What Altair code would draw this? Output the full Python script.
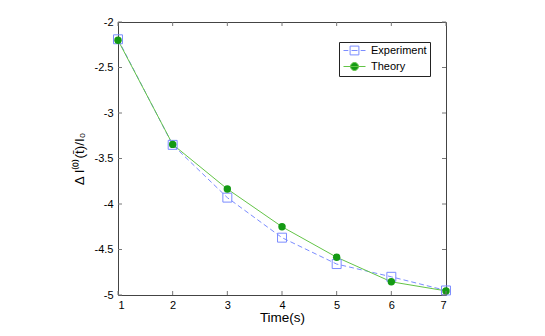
import altair as alt
import pandas as pd

# ---- data ----
time = [1, 2, 3, 4, 5, 6, 7]
experiment = [-2.19, -3.35, -3.93, -4.37, -4.66, -4.80, -4.95]
theory = [-2.20, -3.345, -3.835, -4.25, -4.585, -4.855, -4.955]
series = ["Experiment", "Theory"]
x_ticks = [1, 2, 3, 4, 5, 6, 7]
y_ticks = [-2, -2.5, -3, -3.5, -4, -4.5, -5]

W, H = 328, 273
FONT = "Liberation Sans"
BLUE = "#7b8cff"
GREEN_LINE = "#63c447"
GREEN_PT = "#149a14"

exp_df = pd.DataFrame({"t": time, "v": experiment})
th_df = pd.DataFrame({"t": time, "v": theory})
xt_df = pd.DataFrame({"t": x_ticks})
yt_df = pd.DataFrame({"v": y_ticks})
leg_df = pd.DataFrame({"series": series, "t": [1, 1], "v": [-2, -2]})

xs = alt.Scale(domain=[1, 7], nice=False, zero=False)
ys = alt.Scale(domain=[-5, -2], nice=False, zero=False)

x_axis = alt.Axis(values=x_ticks, ticks=False, domain=False, grid=False,
                  labelPadding=4, title="Time(s)", titlePadding=0,
                  labelExpr="datum.value + ''")
y_axis = alt.Axis(values=y_ticks, ticks=False, domain=False, grid=False,
                  labelPadding=5, title="\u0394 I\u207d\u2070\u207e(t\u0304)/I\u2080",
                  titlePadding=8, labelExpr="datum.value + ''")

X = alt.X("t:Q", scale=xs, axis=x_axis)
Y = alt.Y("v:Q", scale=ys, axis=y_axis)

exp_line = alt.Chart(exp_df).mark_line(color=BLUE, strokeWidth=1, strokeDash=[5, 3]).encode(x=X, y=Y)
th_line = alt.Chart(th_df).mark_line(color=GREEN_LINE, strokeWidth=1).encode(x=X, y=Y)
exp_pts = alt.Chart(exp_df).mark_point(shape="square", size=80, stroke=BLUE, strokeWidth=1,
                                       fill=None, opacity=1).encode(x=X, y=Y)
th_pts = alt.Chart(th_df).mark_point(shape="circle", size=55, filled=True, color=GREEN_PT,
                                     opacity=1).encode(x=X, y=Y)

tick_color = "#777"
bot_ticks = alt.Chart(xt_df).mark_rule(color=tick_color, strokeWidth=1).encode(
    x=X, y=alt.value(H), y2=alt.value(H - 4))
top_ticks = alt.Chart(xt_df).mark_rule(color=tick_color, strokeWidth=1).encode(
    x=X, y=alt.value(0), y2=alt.value(4))
left_ticks = alt.Chart(yt_df).mark_rule(color=tick_color, strokeWidth=1).encode(
    y=Y, x=alt.value(0), x2=alt.value(4))
right_ticks = alt.Chart(yt_df).mark_rule(color=tick_color, strokeWidth=1).encode(
    y=Y, x=alt.value(W - 4), x2=alt.value(W))

exp_sym = "M-1,0H0.2M1.0,0H2.5M3.3,0H4.5M0.65,-1.1H2.85V1.1H0.65Z"
th_sym = "M-1,0H4.5M2.75,0A1,1,0,1,1,0.75,0A1,1,0,1,1,2.75,0Z"

legend_layer = alt.Chart(leg_df).transform_filter("false").mark_point(opacity=1).encode(
    x=X, y=Y,
    shape=alt.Shape("series:N", scale=alt.Scale(domain=series, range=[exp_sym, th_sym]),
                    legend=alt.Legend(title=None)),
    stroke=alt.Stroke("series:N", scale=alt.Scale(domain=series, range=[BLUE, GREEN_LINE]),
                      legend=alt.Legend(title=None)),
    fill=alt.Fill("series:N", scale=alt.Scale(domain=series, range=["rgba(0,0,0,0)", GREEN_PT]),
                  legend=alt.Legend(title=None)),
)

chart = alt.layer(
    exp_line, th_line, exp_pts, th_pts,
    bot_ticks, top_ticks, left_ticks, right_ticks,
    legend_layer,
).properties(
    width=W, height=H,
    autosize=alt.AutoSizeParams(type="none"),
    padding={"left": 110, "top": 14, "right": 20, "bottom": 30},
).configure_view(
    stroke="#444", strokeWidth=1
).configure_axis(
    labelFont=FONT, labelFontSize=11, labelColor="#000",
    titleFont=FONT, titleFontSize=13.5, titleFontWeight="normal", titleColor="#000",
).configure_legend(
    orient="none", legendX=221, legendY=20,
    strokeColor="#222", fillColor="white", padding=3,
    labelFont=FONT, labelFontSize=11, labelColor="#000",
    symbolSize=64, symbolStrokeWidth=1, labelOffset=18, rowPadding=3,
    cornerRadius=0,
)

chart.save("out.html", embed_options={"renderer": "svg", "actions": False})
